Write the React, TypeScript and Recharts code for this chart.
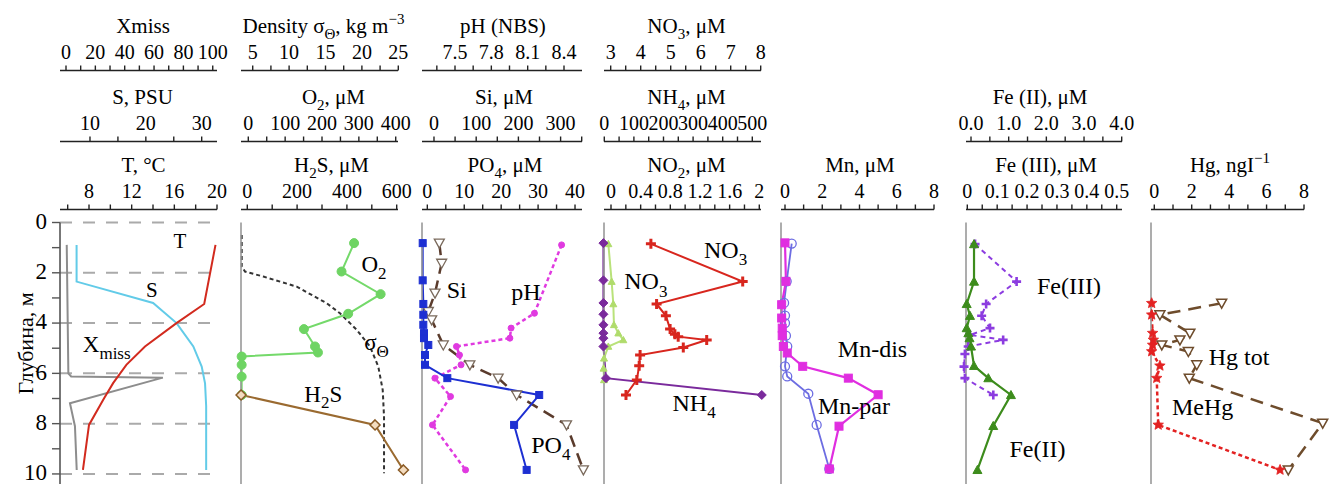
import React from 'react';
import { ComposedChart, Line, XAxis, YAxis, CartesianGrid, ReferenceDot } from 'recharts';

type Pair = [number, number]; // [depth m, value]
type Seg = { t: string; s?: 'sub' | 'sup' };

// ---------------- profiles: [depth, value] ----------------
const temperature: Pair[] = [[0.89, 19.86], [3.24, 18.8], [4.0, 16.2], [4.93, 13.25], [5.66, 11.5], [6.39, 10.26], [7.0, 9.4], [8.05, 8.0], [9.84, 7.43]];
const salinity: Pair[] = [[0.89, 7.6], [2.35, 7.6], [3.2, 21.3], [4.0, 25.5], [4.93, 28.5], [5.73, 30.0], [6.4, 30.6], [7.3, 30.8], [9.84, 30.8]];
const xmiss: Pair[] = [[0.89, 0.5], [6.0, 1.6], [6.12, 3.5], [6.17, 66], [7.19, 2.7], [8.1, 6.1], [9.84, 7.3]];
const density: Pair[] = [[0.5, 3.49], [1.75, 3.49], [1.95, 3.94], [2.15, 6.46], [2.55, 11.04], [3.21, 15.16], [3.61, 16.99], [4.27, 19.29], [4.93, 21.11], [5.73, 22.25], [6.66, 22.86], [7.72, 23.04], [9.97, 23.04]];
const oxygen: Pair[] = [[0.82, 287], [1.95, 253], [2.85, 359], [3.63, 271], [4.24, 151], [4.93, 181], [5.17, 189], [5.33, -18], [5.66, -18], [6.13, -18], [6.86, -18]];
const hydrogenSulfide: Pair[] = [[6.86, -25], [8.05, 513], [9.84, 627]];
const phosphate: Pair[] = [[0.82, -1.25], [2.3, -1.25], [3.24, -1.08], [3.67, -1.08], [4.07, -1.08], [4.4, -0.9], [4.6, -0.9], [4.87, 0.27], [5.27, -0.63], [5.66, -0.63], [6.19, 5.42], [6.86, 30.3], [8.05, 23.5], [9.84, 26.9]];
const silicate: Pair[] = [[0.82, 12.6], [1.62, 18.2], [2.81, 2.4], [3.54, -13.4], [3.87, -5.5], [4.87, 22], [5.66, 85], [6.19, 152], [6.86, 196], [8.05, 314], [9.84, 354]];
const phNbs: Pair[] = [[0.89, 8.38], [3.61, 8.156], [4.2, 7.963], [4.6, 7.953], [4.93, 7.512], [5.27, 7.537], [5.66, 7.55], [6.19, 7.334], [6.92, 7.463], [8.05, 7.314], [9.84, 7.587]];
const nitrate: Pair[] = [[0.85, 4.34], [2.35, 7.4], [3.24, 4.53], [3.71, 4.84], [4.24, 4.98], [4.44, 5.14], [4.54, 5.25], [4.67, 6.2], [4.97, 5.42], [5.27, 3.98], [5.7, 3.95], [6.26, 3.87], [6.86, 3.51]];
const ammonium: Pair[] = [[0.82, -3], [2.3, -3], [3.2, -3], [3.65, -3], [4.07, -3], [4.4, -3], [4.6, -3], [4.93, -3], [6.19, 5.7], [6.86, 532]];
const nitrite: Pair[] = [[0.85, -0.036], [2.35, 0.009], [3.24, 0.031], [4.07, 0.04], [4.4, 0.099], [4.67, 0.166], [4.93, -0.036], [5.4, -0.094], [5.8, -0.1], [6.26, -0.094]];
const mnDissolved: Pair[] = [[0.81, 0], [2.34, 0.05], [3.27, -0.18], [3.8, -0.18], [4.2, -0.15], [4.5, -0.15], [4.93, -0.09], [5.19, 0.12], [5.72, 0.95], [6.19, 3.4], [6.85, 5.0], [8.1, 2.9], [9.8, 2.38]];
const mnParticulate: Pair[] = [[0.84, 0.36], [2.34, 0.09], [3.2, -0.05], [3.7, 0], [4.0, 0], [4.5, 0.05], [4.93, 0.12], [5.72, 0], [6.12, 0.12], [6.81, 1.25], [8.05, 1.7], [9.8, 2.38]];
const ironII: Pair[] = [[0.86, 0.08], [2.35, 0.08], [3.24, -0.115], [3.71, -0.027], [4.2, -0.115], [4.4, -0.07], [4.6, -0.04], [4.93, 0.0], [5.7, 0.08], [6.19, 0.46], [6.86, 1.06], [8.09, 0.59], [9.84, 0.17]];
const ironIII: Pair[] = [[0.86, 0.026], [2.35, 0.165], [3.24, 0.063], [3.71, 0.048], [4.2, 0.076], [4.47, 0.009], [4.67, 0.12], [4.93, 0.003], [5.23, -0.008], [5.73, -0.011], [6.19, -0.008], [6.86, 0.087]];
const mercuryTotal: Pair[] = [[3.21, 3.6], [3.67, 0.3], [4.4, 1.9], [4.67, 1.37], [4.87, 0.4], [5.13, 1.82], [5.66, 2.27], [6.19, 1.87], [7.98, 9.0], [9.84, 7.16]];
const methylMercury: Pair[] = [[3.21, -0.14], [3.67, -0.14], [4.4, -0.09], [4.67, -0.05], [4.87, -0.09], [5.13, -0.14], [5.7, 0.3], [6.19, 0.13], [8.05, 0.21], [9.84, 6.72]];

// ---------------- ticks and labelled ticks ----------------
const xmissTicks = [0, 10, 20, 30, 40, 50, 60, 70, 80, 90, 100];
const xmissLabels = [0, 20, 40, 60, 80, 100];
const salinityTicks = [10, 15, 20, 25, 30];
const salinityLabels = [10, 20, 30];
const tempTicks = [6, 8, 10, 12, 14, 16, 18, 20];
const tempLabels = [8, 12, 16, 20];
const densityTicks = [5, 7.5, 10, 12.5, 15, 17.5, 20, 22.5, 25];
const densityLabels = [5, 10, 15, 20, 25];
const o2Ticks = [0, 50, 100, 150, 200, 250, 300, 350, 400];
const o2Labels = [0, 100, 200, 300, 400];
const h2sTicks = [0, 100, 200, 300, 400, 500, 600];
const h2sLabels = [0, 200, 400, 600];
const phTicks = [7.35, 7.5, 7.65, 7.8, 7.95, 8.1, 8.25, 8.4];
const phLabels = [7.5, 7.8, 8.1, 8.4];
const siTicks = [0, 50, 100, 150, 200, 250, 300, 350];
const siLabels = [0, 100, 200, 300];
const po4Ticks = [0, 5, 10, 15, 20, 25, 30, 35, 40];
const po4Labels = [0, 10, 20, 30, 40];
const no3Ticks = [3, 3.5, 4, 4.5, 5, 5.5, 6, 6.5, 7, 7.5, 8];
const no3Labels = [3, 4, 5, 6, 7, 8];
const nh4Ticks = [0, 50, 100, 150, 200, 250, 300, 350, 400, 450, 500];
const nh4Labels = [0, 100, 200, 300, 400, 500];
const no2Ticks = [0, 0.2, 0.4, 0.6, 0.8, 1, 1.2, 1.4, 1.6, 1.8, 2];
const no2Labels = [0, 0.4, 0.8, 1.2, 1.6, 2];
const mnTicks = [0, 1, 2, 3, 4, 5, 6, 7, 8];
const mnLabels = [0, 2, 4, 6, 8];
const fe2Ticks = [0, 0.5, 1, 1.5, 2, 2.5, 3, 3.5, 4];
const fe2Labels = [0, 1, 2, 3, 4];
const fe3Ticks = [0, 0.05, 0.1, 0.15, 0.2, 0.25, 0.3, 0.35, 0.4, 0.45, 0.5];
const fe3Labels = [0, 0.1, 0.2, 0.3, 0.4, 0.5];
const hgTicks = [0, 1, 2, 3, 4, 5, 6, 7, 8];
const hgLabels = [0, 2, 4, 6, 8];
const depthTicks = [0, 1, 2, 3, 4, 5, 6, 7, 8, 9, 10];
const depthLabels = [0, 2, 4, 6, 8, 10];
const gridDepths = [0, 2, 4, 6, 8, 10];

// ---------------- layout constants ----------------
const FONT = '"Liberation Serif", "Times New Roman", Times, serif';
const HEIGHT = 484;
const PLOT_TOP = 222.5;
const SPACER = 13;
const ROW_H: Record<number, number> = { 1: 60, 2: 71, 3: 68 };
const ROW_PREFIX: Record<number, string> = { 3: 'b_', 2: 'c_', 1: 'd_' };
const PAD = 40;
const DEPTH_MAX = 10.4;

type Marker = { shape: 'circle' | 'square' | 'diamond' | 'triUp' | 'triDown' | 'plus' | 'star' | 'none'; size: number; fill: string; stroke: string; sw: number };
type AxisCfg = { id: string; row: number; edge: [number, number]; ticks: number[]; labels: number[]; fmt?: (v: number) => string; title: Seg[]; dx: number };
type SeriesCfg = { axis: string; data: Pair[]; color: string; width: number; dash?: string; marker: Marker };
type NoteCfg = { axis: string; v: number; d: number; segs: Seg[]; size: number };
type PanelCfg = { L: number; R: number; extraRight: number; primary: boolean; axes: AxisCfg[]; series: SeriesCfg[]; notes: NoteCfg[] };

const NONE: Marker = { shape: 'none', size: 0, fill: 'none', stroke: 'none', sw: 0 };

const rows = (p: Pair[]) => p.map(([d, v]) => ({ d, v }));

function Rich({ x, y, segs, size, rotate }: { x: number; y: number; segs: Seg[]; size: number; rotate?: number }) {
  let shift = 0;
  const spans = segs.map((sg, i) => {
    const target = sg.s === 'sub' ? size * 0.3 : sg.s === 'sup' ? -size * 0.42 : 0;
    const dy = target - shift;
    shift = target;
    return (
      <tspan key={i} dy={dy} fontSize={sg.s ? Math.round(size * 0.72) : size}>
        {sg.t}
      </tspan>
    );
  });
  return (
    <text x={x} y={y} textAnchor="middle" fontFamily={FONT} fontSize={size} fill="#000"
      transform={rotate ? `rotate(${rotate} ${x} ${y})` : undefined}>
      {spans}
    </text>
  );
}

function markerRenderer(m: Marker) {
  return (p: any) => {
    const { cx, cy, index } = p;
    const key = `mk-${index}`;
    if (typeof cx !== 'number' || typeof cy !== 'number') return <g key={key} />;
    const s = m.size / 2;
    const st = { fill: m.fill, stroke: m.stroke, strokeWidth: m.sw };
    switch (m.shape) {
      case 'circle':
        return <circle key={key} cx={cx} cy={cy} r={s} {...st} />;
      case 'square':
        return <rect key={key} x={cx - s} y={cy - s} width={2 * s} height={2 * s} {...st} />;
      case 'diamond':
        return <polygon key={key} points={`${cx},${cy - s} ${cx + s},${cy} ${cx},${cy + s} ${cx - s},${cy}`} {...st} />;
      case 'triUp':
        return <polygon key={key} points={`${cx},${cy - s} ${cx + s},${cy + s * 0.8} ${cx - s},${cy + s * 0.8}`} {...st} />;
      case 'triDown':
        return <polygon key={key} points={`${cx - s},${cy - s * 0.8} ${cx + s},${cy - s * 0.8} ${cx},${cy + s}`} {...st} />;
      case 'plus':
        return <path key={key} d={`M${cx - s},${cy}H${cx + s}M${cx},${cy - s}V${cy + s}`} stroke={m.stroke} strokeWidth={m.sw} fill="none" />;
      case 'star': {
        const pts: string[] = [];
        for (let i = 0; i < 10; i++) {
          const r = i % 2 === 0 ? s : s * 0.45;
          const a = (-90 + i * 36) * Math.PI / 180;
          pts.push(`${cx + r * Math.cos(a)},${cy + r * Math.sin(a)}`);
        }
        return <polygon key={key} points={pts.join(' ')} {...st} />;
      }
      default:
        return <g key={key} />;
    }
  };
}

const labelFormatter = (labels: number[], fmt?: (v: number) => string) => (v: number) =>
  labels.some((l) => Math.abs(l - v) < 1e-6) ? (fmt ? fmt(v) : String(v)) : '';

const sub = (t: string): Seg => ({ t, s: 'sub' });
const sup = (t: string): Seg => ({ t, s: 'sup' });
const tx = (t: string): Seg => ({ t });

const panels: PanelCfg[] = [
  {
    L: 60, R: 217, extraRight: 25, primary: true,
    axes: [
      { id: 'xmiss', row: 1, edge: [-4.09, 102.9], ticks: xmissTicks, labels: xmissLabels, title: [tx('Xmiss')], dx: 4.5 },
      { id: 'sal', row: 2, edge: [4.63, 32.74], ticks: salinityTicks, labels: salinityLabels, title: [tx('S, PSU')], dx: 4 },
      { id: 'temp', row: 3, edge: [5.28, 20], ticks: tempTicks, labels: tempLabels, title: [tx('T, °C')], dx: 5 },
    ],
    series: [
      { axis: 'xmiss', data: xmiss, color: '#8d8d8d', width: 2, marker: NONE },
      { axis: 'sal', data: salinity, color: '#62cbe8', width: 2, marker: NONE },
      { axis: 'temp', data: temperature, color: '#d22a1e', width: 2, marker: NONE },
    ],
    notes: [
      { axis: 'temp', v: 16.53, d: 1.03, segs: [tx('T')], size: 21 },
      { axis: 'temp', v: 13.88, d: 2.95, segs: [tx('S')], size: 21 },
      { axis: 'temp', v: 9.66, d: 5.14, segs: [tx('X'), sub('miss')], size: 23 },
    ],
  },
  {
    L: 241, R: 398, extraRight: 25, primary: false,
    axes: [
      { id: 'dens', row: 1, edge: [3.39, 24.96], ticks: densityTicks, labels: densityLabels, title: [tx('Density σ'), sub('Θ'), tx(', kg m'), sup('−3')], dx: 4 },
      { id: 'o2', row: 2, edge: [-19.8, 406.2], ticks: o2Ticks, labels: o2Labels, title: [tx('O'), sub('2'), tx(', μM')], dx: 14 },
      { id: 'h2s', row: 3, edge: [-25.3, 605.2], ticks: h2sTicks, labels: h2sLabels, title: [tx('H'), sub('2'), tx('S, μM')], dx: 12 },
    ],
    series: [
      { axis: 'dens', data: density, color: '#333333', width: 2, dash: '4 3', marker: NONE },
      { axis: 'o2', data: oxygen, color: '#74d96a', width: 2, marker: { shape: 'circle', size: 9, fill: '#6ed463', stroke: '#6ed463', sw: 1 } },
      { axis: 'h2s', data: hydrogenSulfide, color: '#9a6a30', width: 2, marker: { shape: 'diamond', size: 10, fill: '#f3dcc0', stroke: '#8a5a25', sw: 1.5 } },
    ],
    notes: [
      { axis: 'o2', v: 341, d: 1.96, segs: [tx('O'), sub('2')], size: 23 },
      { axis: 'o2', v: 348, d: 5.07, segs: [tx('σ'), sub('Θ')], size: 23 },
      { axis: 'o2', v: 203.5, d: 7.12, segs: [tx('H'), sub('2'), tx('S')], size: 23 },
    ],
  },
  {
    L: 422, R: 582, extraRight: 25, primary: false,
    axes: [
      { id: 'ph', row: 1, edge: [7.2275, 8.5486], ticks: phTicks, labels: phLabels, title: [tx('pH (NBS)')], dx: 1 },
      { id: 'si', row: 2, edge: [-28.4, 350.7], ticks: siTicks, labels: siLabels, title: [tx('Si, μM')], dx: 2 },
      { id: 'po4', row: 3, edge: [-1.44, 41.89], ticks: po4Ticks, labels: po4Labels, title: [tx('PO'), sub('4'), tx(', μM')], dx: 3 },
    ],
    series: [
      { axis: 'ph', data: phNbs, color: '#e03ae0', width: 2.5, dash: '4 3', marker: { shape: 'circle', size: 6, fill: '#e03ae0', stroke: '#e03ae0', sw: 1 } },
      { axis: 'si', data: silicate, color: '#5a3b2c', width: 2.5, dash: '12 7', marker: { shape: 'triDown', size: 10, fill: '#ffffff', stroke: '#7a6a5c', sw: 1.3 } },
      { axis: 'po4', data: phosphate, color: '#1d2fd2', width: 2, marker: { shape: 'square', size: 7, fill: '#1d2fd2', stroke: '#1d2fd2', sw: 1 } },
    ],
    notes: [
      { axis: 'po4', v: 7.96, d: 3.01, segs: [tx('Si')], size: 24 },
      { axis: 'po4', v: 26.67, d: 3.08, segs: [tx('pH')], size: 24 },
      { axis: 'po4', v: 33.44, d: 9.15, segs: [tx('PO'), sub('4')], size: 24 },
    ],
  },
  {
    L: 604, R: 761, extraRight: 25, primary: false,
    axes: [
      { id: 'no3', row: 1, edge: [2.777, 8.01], ticks: no3Ticks, labels: no3Labels, title: [tx('NO'), sub('3'), tx(', μM')], dx: 4 },
      { id: 'nh4', row: 2, edge: [-1.0, 529.4], ticks: nh4Ticks, labels: nh4Labels, title: [tx('NH'), sub('4'), tx(', μM')], dx: 4 },
      { id: 'no2', row: 3, edge: [-0.0944, 2.023], ticks: no2Ticks, labels: no2Labels, title: [tx('NO'), sub('2'), tx(', μM')], dx: 4 },
    ],
    series: [
      { axis: 'no2', data: nitrite, color: '#b9e27a', width: 2, marker: { shape: 'triUp', size: 7, fill: '#b0dc6c', stroke: '#b0dc6c', sw: 1 } },
      { axis: 'nh4', data: ammonium, color: '#7a2a9c', width: 2, marker: { shape: 'diamond', size: 9, fill: '#7a2a9c', stroke: '#7a2a9c', sw: 1 } },
      { axis: 'no3', data: nitrate, color: '#d8261e', width: 2, marker: { shape: 'plus', size: 10, fill: 'none', stroke: '#d8261e', sw: 3 } },
    ],
    notes: [
      { axis: 'no3', v: 6.83, d: 1.42, segs: [tx('NO'), sub('3')], size: 24 },
      { axis: 'no3', v: 4.17, d: 2.66, segs: [tx('NO'), sub('3')], size: 24 },
      { axis: 'no3', v: 5.78, d: 7.48, segs: [tx('NH'), sub('4')], size: 24 },
    ],
  },
  {
    L: 781, R: 934, extraRight: 25, primary: false,
    axes: [
      { id: 'mn', row: 3, edge: [-0.215, 8], ticks: mnTicks, labels: mnLabels, title: [tx('Mn, μM')], dx: 2.5 },
    ],
    series: [
      { axis: 'mn', data: mnParticulate, color: '#6d6de2', width: 1.8, marker: { shape: 'circle', size: 9, fill: 'none', stroke: '#6d6de2', sw: 1.3 } },
      { axis: 'mn', data: mnDissolved, color: '#e02ee0', width: 2.2, marker: { shape: 'square', size: 8, fill: '#e02ee0', stroke: '#e02ee0', sw: 1 } },
    ],
    notes: [
      { axis: 'mn', v: 4.7, d: 5.36, segs: [tx('Mn-dis')], size: 24 },
      { axis: 'mn', v: 3.7, d: 7.61, segs: [tx('Mn-par')], size: 24 },
    ],
  },
  {
    L: 966, R: 1122, extraRight: 25, primary: false,
    axes: [
      { id: 'fe2', row: 2, edge: [-0.133, 4.008], ticks: fe2Ticks, labels: fe2Labels, fmt: (v) => v.toFixed(1), title: [tx('Fe (II), μM')], dx: -4 },
      { id: 'fe3', row: 3, edge: [-0.00435, 0.5177], ticks: fe3Ticks, labels: fe3Labels, title: [tx('Fe (III), μM')], dx: 2 },
    ],
    series: [
      { axis: 'fe3', data: ironIII, color: '#8c3ce0', width: 2, dash: '5 4', marker: { shape: 'plus', size: 9, fill: 'none', stroke: '#8c3ce0', sw: 2.6 } },
      { axis: 'fe2', data: ironII, color: '#3d8c1c', width: 2.2, marker: { shape: 'triUp', size: 9, fill: '#3d8c1c', stroke: '#3d8c1c', sw: 1 } },
    ],
    notes: [
      { axis: 'fe2', v: 2.6, d: 2.84, segs: [tx('Fe(III)')], size: 24 },
      { axis: 'fe2', v: 1.765, d: 9.34, segs: [tx('Fe(II)')], size: 24 },
    ],
  },
  {
    L: 1151, R: 1304, extraRight: 31, primary: false,
    axes: [
      { id: 'hg', row: 3, edge: [-0.176, 8], ticks: hgTicks, labels: hgLabels, title: [tx('Hg, ngI'), sup('−1')], dx: 2.5 },
    ],
    series: [
      { axis: 'hg', data: mercuryTotal, color: '#6e4c2c', width: 2.5, dash: '13 8', marker: { shape: 'triDown', size: 10, fill: '#ffffff', stroke: '#6e4c2c', sw: 1.5 } },
      { axis: 'hg', data: methylMercury, color: '#e32222', width: 2.5, dash: '4 3', marker: { shape: 'star', size: 11, fill: '#e32222', stroke: '#e32222', sw: 0.8 } },
    ],
    notes: [
      { axis: 'hg', v: 4.53, d: 5.67, segs: [tx('Hg tot')], size: 24 },
      { axis: 'hg', v: 2.58, d: 7.65, segs: [tx('MeHg')], size: 24 },
    ],
  },
];

function renderPanel(cfg: PanelCfg, pi: number) {
  const yw = cfg.primary ? 60 : 1;
  const ml = cfg.primary ? 0 : 9;
  const chartX = cfg.L - ml - yw;
  const width = cfg.R + cfg.extraRight - chartX;
  const top = PLOT_TOP - SPACER - cfg.axes.reduce((s, a) => s + ROW_H[a.row], 0);
  const sorted = [...cfg.axes].sort((a, b) => b.row - a.row);
  const plotW = cfg.R - cfg.L;
  const axisIdOf: Record<string, string> = {};
  cfg.axes.forEach((a) => { axisIdOf[a.id] = ROW_PREFIX[a.row] + a.id; });
  const gridAxis = axisIdOf[sorted[0].id];
  return (
    <div key={pi} style={{ position: 'absolute', left: chartX, top: 0 }}>
      <ComposedChart width={width} height={HEIGHT} layout="vertical"
        margin={{ top, right: cfg.extraRight, bottom: 0, left: ml }}>
        <XAxis xAxisId="a_spacer" type="number" orientation="top" height={SPACER} domain={[0, 1]} allowDataOverflow
          axisLine={false} tickLine={false} tick={false} />
        {sorted.map((a) => {
          const slope = (a.edge[1] - a.edge[0]) / plotW;
          const dom: [number, number] = [a.edge[0] - PAD * slope, a.edge[1] + PAD * slope];
          return (
            <XAxis key={a.id} xAxisId={axisIdOf[a.id]} type="number" orientation="top" height={ROW_H[a.row]}
              domain={dom} padding={{ left: -PAD, right: -PAD }} ticks={a.ticks} interval={0}
              tickFormatter={labelFormatter(a.labels, a.fmt)} tickSize={5} tickMargin={7}
              tick={{ fontSize: 20, fill: '#000', fontFamily: FONT }}
              axisLine={{ stroke: '#222', strokeWidth: 1.4 }} tickLine={{ stroke: '#222', strokeWidth: 1.4 }}
              label={{
                content: (p: any) => {
                  const vb = p.viewBox || {};
                  return <Rich x={vb.x + vb.width / 2 + a.dx} y={vb.y + vb.height - 38} segs={a.title} size={21} />;
                },
              }}
            />
          );
        })}
        {cfg.primary ? (
          <YAxis yAxisId="d" type="number" dataKey="d" domain={[0, DEPTH_MAX]} width={yw}
            ticks={depthTicks} interval={0} tickFormatter={labelFormatter(depthLabels)} tickSize={8} tickMargin={5}
            tick={{ fontSize: 23, fill: '#000', fontFamily: FONT, dy: -2 }}
            axisLine={{ stroke: '#555', strokeWidth: 1.6 }} tickLine={{ stroke: '#555', strokeWidth: 1.4 }}
            label={{
              content: (p: any) => {
                const vb = p.viewBox || {};
                return <Rich x={vb.x + 33} y={vb.y + 121} segs={[tx('Глубина, м')]} size={22} rotate={-90} />;
              },
            }}
          />
        ) : (
          <YAxis yAxisId="d" type="number" dataKey="d" domain={[0, DEPTH_MAX]} width={yw}
            ticks={gridDepths} tick={false} tickLine={false} axisLine={{ stroke: '#999', strokeWidth: 1.6 }} />
        )}
        <CartesianGrid xAxisId={gridAxis} yAxisId="d" vertical={false} horizontalValues={gridDepths}
          stroke="#aaaaaa" strokeWidth={2} strokeDasharray="12 11" />
        {cfg.series.map((s, i) => (
          <Line key={`s${i}`} xAxisId={axisIdOf[s.axis]} yAxisId="d" data={rows(s.data)} dataKey="v" type="linear"
            stroke={s.color} strokeWidth={s.width} strokeDasharray={s.dash}
            dot={s.marker.shape === 'none' ? false : markerRenderer(s.marker)} activeDot={false}
            isAnimationActive={false} />
        ))}
        {cfg.notes.map((n, i) => (
          <ReferenceDot key={`n${i}`} xAxisId={axisIdOf[n.axis]} yAxisId="d" x={n.v} y={n.d} r={0} ifOverflow="visible"
            shape={(p: any) => <Rich x={p.cx} y={p.cy} segs={n.segs} size={n.size} />} />
        ))}
      </ComposedChart>
    </div>
  );
}

export default function App() {
  return (
    <div style={{ position: 'relative', width: 1335, height: HEIGHT, background: '#fff', overflow: 'hidden' }}>
      <style>{'body{margin:0}'}</style>
      {panels.map((p, i) => renderPanel(p, i))}
    </div>
  );
}
